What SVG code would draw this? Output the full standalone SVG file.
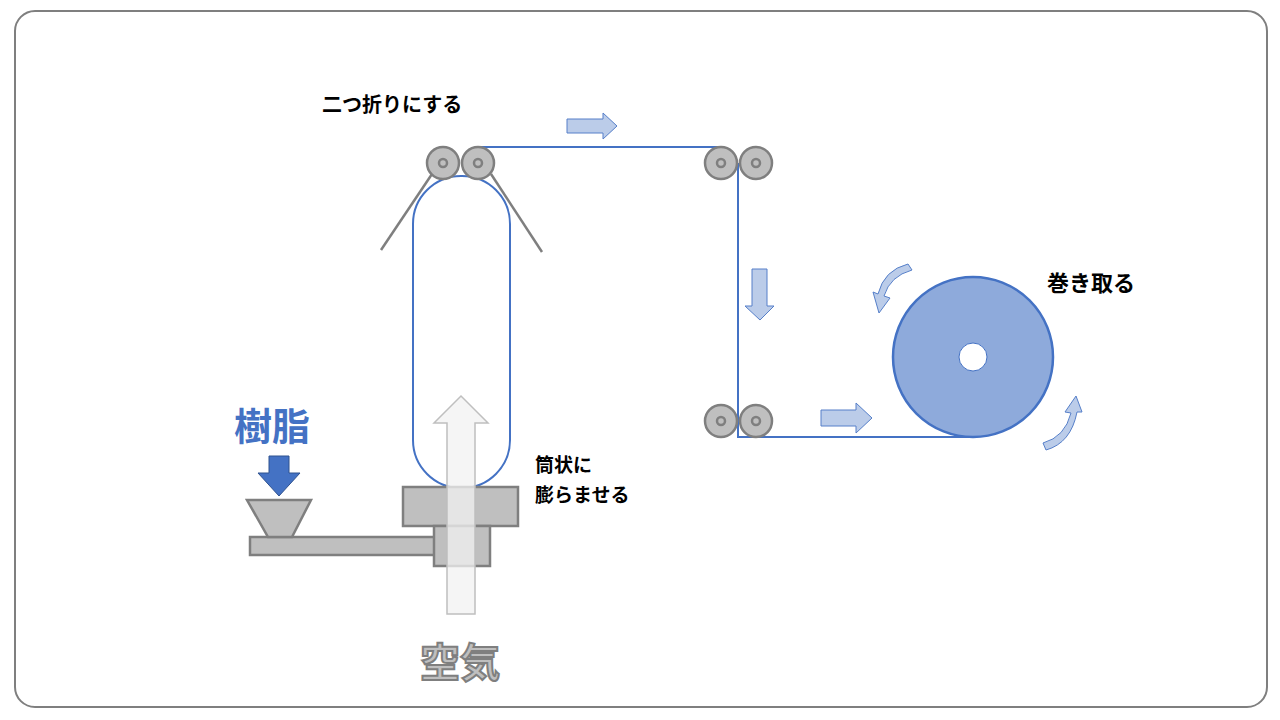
<svg xmlns="http://www.w3.org/2000/svg" width="1280" height="720" viewBox="0 0 1280 720">
<defs>
<style>
.roller{fill:#bfbfbf;stroke:#7f7f7f;stroke-width:2.5}
.hub{fill:none;stroke:#7f7f7f;stroke-width:2.5}
.film{fill:none;stroke:#4472c4;stroke-width:2}
.ga{fill:#bfbfbf;stroke:#7f7f7f;stroke-width:2.5}
.la{fill:#b4c7e7;stroke:#4472c4;stroke-width:1;opacity:0.9}
.t{font-family:"Noto Sans CJK JP",sans-serif;font-weight:bold;fill:#000}
</style>
</defs>
<rect x="15" y="11" width="1252" height="696" rx="20" fill="#fff" stroke="#7f7f7f" stroke-width="2"/>
<g id="connectors">
<line x1="381" y1="250" x2="432" y2="174" stroke="#7f7f7f" stroke-width="2.5"/>
<line x1="542" y1="252" x2="491" y2="174" stroke="#7f7f7f" stroke-width="2.5"/>
<rect id="tube" class="film" x="413" y="176" width="97" height="312" rx="48"/>
<polyline class="film" points="478,147 721,147"/>
<polyline class="film" points="738,163 738,437 973,437"/>
</g>
<g id="extruder">
<rect class="ga" x="250" y="537" width="186" height="18"/>
<polygon class="ga" points="247,500 311,500 292,537 268,537"/>
<rect class="ga" x="403" y="487" width="115" height="39"/>
<rect class="ga" x="434" y="526" width="56" height="40"/>
</g>
<g id="air-arrow">
<polygon points="447,614 475,614 475,423 488,423 461,396 434,423 447,423" fill="#f2f2f2" fill-opacity="0.75" stroke="#bfbfbf" stroke-width="1.5"/>
</g>
<g id="resin-arrow">
<polygon points="269,456 289,456 289,473 300,473 279,496 258,473 269,473" fill="#4472c4" stroke="#2f528f" stroke-width="1"/>
</g>
<g id="rollers-top-left">
<circle class="roller" cx="443" cy="163" r="16"/><circle class="hub" cx="443" cy="163" r="4"/>
<circle class="roller" cx="478" cy="163" r="16"/><circle class="hub" cx="478" cy="163" r="4"/>
</g>
<g id="rollers-top-right">
<circle class="roller" cx="721" cy="163" r="16"/><circle class="hub" cx="721" cy="163" r="4"/>
<circle class="roller" cx="756" cy="163" r="16"/><circle class="hub" cx="756" cy="163" r="4"/>
</g>
<g id="rollers-bottom">
<circle class="roller" cx="721" cy="421" r="16"/><circle class="hub" cx="721" cy="421" r="4"/>
<circle class="roller" cx="756" cy="421" r="16"/><circle class="hub" cx="756" cy="421" r="4"/>
</g>
<g id="flow-arrows">
<polygon class="la" points="567,119 603,119 603,113 617,126 603,139 603,133 567,133"/>
<polygon class="la" points="752,269 767,269 767,306 774,306 760,320 745,306 752,306"/>
<polygon class="la" points="821,410 856,410 856,403 872,418 856,433 856,426 821,426"/>
<path class="la" d="M912,270 Q890,276 884,296 L890,298 L879,313 L873,292 L878,294 Q884,270 908,264 Z"/>
<path class="la" d="M1043,443 Q1065,437 1071,413 L1065,412 L1076,396 L1082,412 L1077,412 Q1071,443 1046,450 Z"/>
</g>
<g id="roll">
<circle cx="973" cy="357" r="80" fill="#8eaadb" stroke="#4472c4" stroke-width="2.5"/>
<circle cx="973" cy="357" r="14" fill="#fff" stroke="#4472c4" stroke-width="1"/>
</g>
<g id="labels">
<text class="t" x="322" y="112" font-size="20">二つ折りにする</text>
<text class="t" x="535" y="472" font-size="19">筒状に</text>
<text class="t" x="535" y="502" font-size="19">膨らませる</text>
<text class="t" x="1047" y="291" font-size="22">巻き取る</text>
<text x="234" y="440" font-size="38" font-family="Noto Sans CJK JP,sans-serif" font-weight="bold" fill="#4472c4">樹脂</text>
<text x="420" y="677" font-size="40" font-family="Noto Sans CJK JP,sans-serif" font-weight="bold" fill="#bfbfbf" stroke="#7f7f7f" stroke-width="2">空気</text>
</g>
</svg>
